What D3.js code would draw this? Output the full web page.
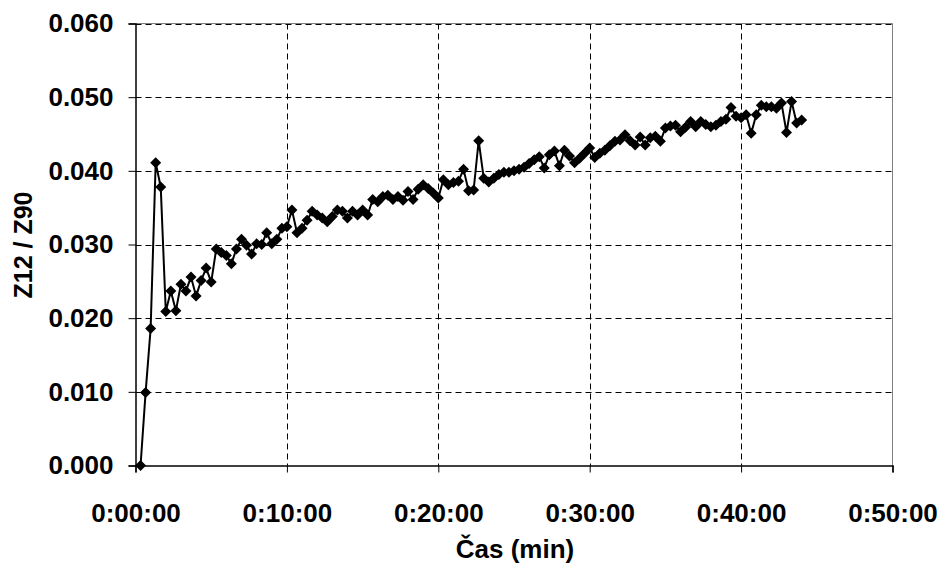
<!DOCTYPE html>
<html>
<head>
<meta charset="utf-8">
<script src="https://cdn.jsdelivr.net/npm/d3@7"></script>
<style>
    body { margin: 0; background: #ffffff; }
    svg { display: block; }
    text { font-family: "Liberation Sans", Arial, sans-serif; font-weight: bold; fill: #000; }
</style>
</head>
<body>
<svg></svg>
<script>
// Time of each sample (seconds from start)
let timeSec = [
    20, 40, 60, 80, 100, 120, 140, 160, 180, 200, 220, 240,
    260, 280, 300, 320, 340, 360, 380, 400, 420, 440, 460, 480,
    500, 520, 540, 560, 580, 600, 620, 640, 660, 680, 700, 720,
    740, 760, 780, 800, 820, 840, 860, 880, 900, 920, 940, 960,
    980, 1000, 1020, 1040, 1060, 1080, 1100, 1120, 1140, 1160, 1180, 1200,
    1220, 1240, 1260, 1280, 1300, 1320, 1340, 1360, 1380, 1400, 1420, 1440,
    1460, 1480, 1500, 1520, 1540, 1560, 1580, 1600, 1620, 1640, 1660, 1680,
    1700, 1720, 1740, 1760, 1780, 1800, 1820, 1840, 1860, 1880, 1900, 1920,
    1940, 1960, 1980, 2000, 2020, 2040, 2060, 2080, 2100, 2120, 2140, 2160,
    2180, 2200, 2220, 2240, 2260, 2280, 2300, 2320, 2340, 2360, 2380, 2400,
    2420, 2440, 2460, 2480, 2500, 2520, 2540, 2560, 2580, 2600, 2620, 2640
];

// Z12 / Z90 ratio
let ratio = [
    0.0000, 0.0099, 0.0186, 0.0411, 0.0378, 0.0209, 0.0237, 0.0210, 0.0246, 0.0237, 0.0256, 0.0230,
    0.0251, 0.0268, 0.0249, 0.0294, 0.0289, 0.0285, 0.0274, 0.0294, 0.0307, 0.0299, 0.0287, 0.0301,
    0.0300, 0.0316, 0.0301, 0.0307, 0.0322, 0.0324, 0.0347, 0.0316, 0.0322, 0.0333, 0.0345, 0.0340,
    0.0336, 0.0331, 0.0338, 0.0347, 0.0345, 0.0336, 0.0345, 0.0340, 0.0347, 0.0340, 0.0361, 0.0358,
    0.0365, 0.0367, 0.0361, 0.0365, 0.0360, 0.0372, 0.0361, 0.0375, 0.0381, 0.0376, 0.0370, 0.0363,
    0.0388, 0.0381, 0.0384, 0.0386, 0.0402, 0.0373, 0.0374, 0.0441, 0.0390, 0.0385, 0.0390, 0.0395,
    0.0398, 0.0398, 0.0400, 0.0402, 0.0405, 0.0410, 0.0415, 0.0419, 0.0404, 0.0422, 0.0427, 0.0407,
    0.0428, 0.0420, 0.0411, 0.0417, 0.0424, 0.0431, 0.0418, 0.0424, 0.0428, 0.0434, 0.0440, 0.0442,
    0.0449, 0.0441, 0.0435, 0.0446, 0.0435, 0.0445, 0.0447, 0.0440, 0.0458, 0.0461, 0.0462, 0.0453,
    0.0459, 0.0467, 0.0460, 0.0467, 0.0463, 0.0460, 0.0462, 0.0467, 0.0470, 0.0486, 0.0474, 0.0472,
    0.0476, 0.0451, 0.0476, 0.0489, 0.0487, 0.0487, 0.0485, 0.0492, 0.0452, 0.0494, 0.0465, 0.0469
];

// Axis ticks
let xTicks = [0, 600, 1200, 1800, 2400, 3000];
let yTicks = [0, 0.01, 0.02, 0.03, 0.04, 0.05, 0.06];

let xTitle = 'Čas (min)';
let yTitle = 'Z12 / Z90';

// SVG dimensions and plot area
let width = 940, height = 565;
let plot = { left: 135.5, right: 892.5, top: 23.5, bottom: 465.5 };

let xScale, yScale;
let svg = d3.select('svg');

function drawSvg() {
    svg.attr('width', width).attr('height', height);
}

function generateScales() {
    xScale = d3.scaleLinear().domain([0, 3000]).range([plot.left, plot.right]);
    yScale = d3.scaleLinear().domain([0, 0.06]).range([plot.bottom, plot.top]);
}

function formatTime(s) {
    let h = Math.floor(s / 3600);
    let m = Math.floor((s % 3600) / 60);
    let sec = s % 60;
    return h + ':' + String(m).padStart(2, '0') + ':' + String(sec).padStart(2, '0');
}

function drawGrid() {
    let grid = svg.append('g').attr('id', 'grid');

    grid.selectAll('.hgrid')
        .data(yTicks.slice(1))
        .enter()
        .append('line')
        .attr('x1', plot.left)
        .attr('x2', plot.right)
        .attr('y1', d => Math.round(yScale(d)) + 0.5)
        .attr('y2', d => Math.round(yScale(d)) + 0.5)
        .attr('stroke', '#000')
        .attr('stroke-width', 1)
        .attr('stroke-dasharray', '6,4');

    grid.selectAll('.vgrid')
        .data(xTicks.slice(1, -1))
        .enter()
        .append('line')
        .attr('x1', d => Math.round(xScale(d)) + 0.5)
        .attr('x2', d => Math.round(xScale(d)) + 0.5)
        .attr('y1', plot.top)
        .attr('y2', plot.bottom)
        .attr('stroke', '#000')
        .attr('stroke-width', 1)
        .attr('stroke-dasharray', '6,4');

    // plot area border on top / right
    grid.append('path')
        .attr('d', `M${plot.left},${plot.top}H${plot.right}V${plot.bottom}`)
        .attr('fill', 'none')
        .attr('stroke', '#808080')
        .attr('stroke-width', 1);
}

function generateAxes() {
    let xAxis = d3.axisBottom(xScale)
        .tickValues(xTicks)
        .tickFormat(formatTime)
        .tickSize(7)
        .tickPadding(31);
    let gx = svg.append('g')
        .attr('id', 'x-axis')
        .attr('transform', `translate(0, ${plot.bottom})`)
        .call(xAxis);
    gx.select('.domain').attr('stroke', '#000').attr('stroke-width', 1.5);
    gx.selectAll('.tick line').attr('stroke', '#000');
    gx.selectAll('text').style('font-size', '26px').attr('fill', '#000');

    let yAxis = d3.axisLeft(yScale)
        .tickValues(yTicks)
        .tickFormat(d3.format('.3f'))
        .tickSize(7)
        .tickPadding(15);
    let gy = svg.append('g')
        .attr('id', 'y-axis')
        .attr('transform', `translate(${plot.left}, 0)`)
        .call(yAxis);
    gy.select('.domain').attr('stroke', '#000').attr('stroke-width', 1.5);
    gy.selectAll('.tick line').attr('stroke', '#000');
    gy.selectAll('text').style('font-size', '26px').attr('fill', '#000');

    // Axis titles
    svg.append('text')
        .attr('x', 515)
        .attr('y', 558)
        .attr('text-anchor', 'middle')
        .style('font-size', '26px')
        .text(xTitle);

    svg.append('text')
        .attr('transform', 'translate(32, 245) rotate(-90)')
        .attr('text-anchor', 'middle')
        .style('font-size', '25px')
        .text(yTitle);
}

function drawPoints() {
    let data = timeSec.map((t, i) => ({ t: t, v: ratio[i] }));

    let line = d3.line()
        .x(d => xScale(d.t))
        .y(d => yScale(d.v));

    svg.append('path')
        .datum(data)
        .attr('d', line)
        .attr('fill', 'none')
        .attr('stroke', '#000')
        .attr('stroke-width', 2)
        .attr('stroke-linejoin', 'round');

    svg.selectAll('.marker')
        .data(data)
        .enter()
        .append('path')
        .attr('class', 'marker')
        .attr('d', 'M0,-5.5L5.5,0L0,5.5L-5.5,0Z')
        .attr('transform', d => `translate(${xScale(d.t)}, ${yScale(d.v)})`)
        .attr('fill', '#000');
}

drawSvg();
generateScales();
drawGrid();
drawPoints();
generateAxes();
</script>
</body>
</html>
